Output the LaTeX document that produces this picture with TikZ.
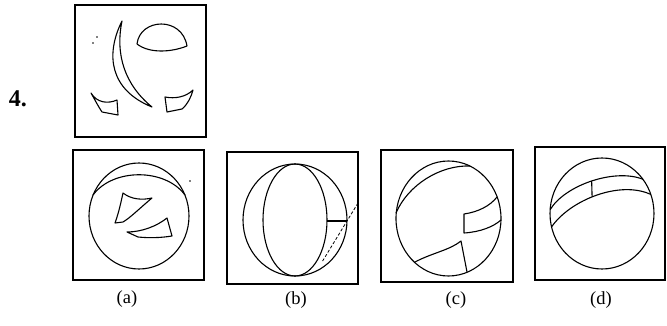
\documentclass[tikz,border=0pt]{standalone}
\usepackage{fontspec}
\setmainfont{Liberation Serif}
\begin{document}
\begin{tikzpicture}[x=1pt,y=-1pt,
  frame/.style={draw=black,line width=1.3pt},
  fig/.style={draw=black,line width=1.1pt,line join=round},
  lbl/.style={font=\fontsize{18.5}{18.5}\selectfont,inner sep=0pt},
  dotmark/.style={fill=black}]
\useasboundingbox (0,0) rectangle (667,326);
% question number
\node[font=\fontsize{24}{24}\selectfont\bfseries,inner sep=0pt] (num) at (18,99) {4.};
% question figure
\draw[frame] (75,5) rectangle (206,137);
\draw[fig] (137,44) .. controls (140,18) and (182,16) .. (187,46)
  .. controls (172,52) and (150,54) .. cycle;
\draw[fig] (122,21) .. controls (105,55) and (110,90) .. (152,107)
  .. controls (125,85) and (115,55) .. cycle;
\draw[fig] (91,93) .. controls (97,103) and (108,104) .. (117,100) -- (118,115) -- (102,112)
  .. controls (98,106) and (95,100) .. cycle;
\draw[fig] (193,90) .. controls (186,97) and (175,99) .. (165,97) -- (167,112) -- (182,109)
  .. controls (188,104) and (191,97) .. cycle;
\fill[dotmark] (97,37) circle (0.9);
\fill[dotmark] (93,43) circle (0.9);
% option (a)
\draw[frame] (73,150) rectangle (204,280);
\draw[fig] (139,216) ellipse [x radius=50,y radius=53];
\draw[fig] (93,195) .. controls (113,168) and (165,168) .. (185,195);
\draw[fig] (123,193) .. controls (132,200) and (143,200) .. (152,198)
  .. controls (140,208) and (130,218) .. (123,222) -- (115,223)
  .. controls (119,212) and (121,202) .. cycle;
\draw[fig] (127,232) .. controls (142,232) and (157,226) .. (167,218) -- (172,236)
  .. controls (160,238) and (148,238) .. (138,237) -- cycle;
\fill[dotmark] (190,181) circle (0.9);
\node[lbl] (la) at (127,299) {(a)};
% option (b)
\draw[frame] (227,152) rectangle (358,284);
\draw[fig] (295,220) ellipse [x radius=52,y radius=56];
\draw[fig] (295,220) ellipse [x radius=32,y radius=56];
\draw[fig] (327,221) -- (347,221);
\draw[draw=black,line width=0.8pt,dash pattern=on 3pt off 2pt] (358,203) -- (322,262);
\node[lbl] (lb) at (296,300) {(b)};
% option (c)
\draw[frame] (381,150) rectangle (513,282);
\draw[fig] (448.5,218.5) ellipse [x radius=52.5,y radius=57.5];
\draw[fig] (396,213) .. controls (408,185) and (440,165) .. (470,166);
\draw[fig] (497,197) .. controls (490,206) and (478,212) .. (464,214) -- (464,233)
  .. controls (480,232) and (493,227) .. (501,220);
\draw[fig] (415,262) .. controls (432,253) and (450,250) .. (461,241) -- (467,272);
\node[lbl] (lc) at (456,300) {(c)};
% option (d)
\draw[frame] (535,147) rectangle (665,280);
\draw[fig] (602,213.5) ellipse [x radius=52,y radius=55.5];
\draw[fig] (550.2,209.6) .. controls (565,185) and (615,168) .. coordinate[pos=0.5] (du) (643,179.3);
\draw[fig] (551.5,227) .. controls (570,200) and (620,180) .. coordinate[pos=0.46] (dl) (650.9,194.5);
\draw[fig] (du) -- (dl);
\node[lbl] (ld) at (601,300) {(d)};
\end{tikzpicture}
\end{document}
